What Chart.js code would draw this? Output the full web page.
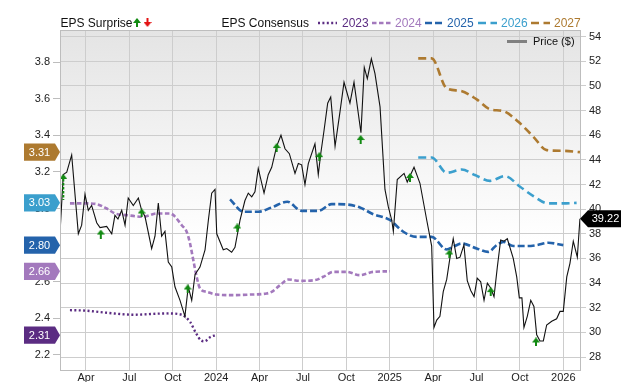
<!DOCTYPE html>
<html lang="en">
<head>
<meta charset="UTF-8">
<title>EPS Consensus and Price</title>
<script src="https://cdn.jsdelivr.net/npm/chart.js@4.4.1/dist/chart.umd.min.js"></script>
<style>
  html, body { margin: 0; padding: 0; background: #fff; }
  #wrap { position: relative; width: 640px; height: 382px; }
</style>
</head>
<body>
<div id="wrap"><canvas id="chart" width="640" height="382"></canvas></div>
<script>
// x values are months counted from Jan 2023 (3 = Apr 2023, 12 = Jan 2024 ...)
const xTicks      = [3, 6, 9, 12, 15, 18, 21, 24, 27, 30, 33, 36];
const xTickLabels = ['Apr', 'Jul', 'Oct', '2024', 'Apr', 'Jul', 'Oct', '2025', 'Apr', 'Jul', 'Oct', '2026'];
const epsTicks    = [2.2, 2.4, 2.6, 2.8, 3.0, 3.2, 3.4, 3.6, 3.8];
const priceTicks  = [28, 30, 32, 34, 36, 38, 40, 42, 44, 46, 48, 50, 52, 54];

const priceX = [1.20, 1.43, 1.67, 2.01, 2.47, 2.70, 2.93, 3.16, 3.39, 3.74, 3.97, 4.43, 4.78, 5.00, 5.21, 5.47,
  5.70, 5.92, 6.27, 6.62, 6.85, 7.08, 7.54, 7.77, 8.00, 8.23, 8.46, 8.69, 8.93, 9.15, 9.50, 9.84, 10.07, 10.31,
  10.54, 10.88, 11.23, 11.46, 11.69, 11.92, 12.04, 12.49, 12.73, 13.07, 13.30, 13.65, 13.99, 14.22, 14.46, 14.68,
  14.91, 15.31, 15.60, 15.84, 16.18, 16.48, 16.76, 17.06, 17.45, 17.68, 17.91, 18.14, 18.37, 18.83, 19.06, 19.23,
  19.46, 19.71, 19.92, 20.22, 20.56, 20.84, 21.25, 21.53, 22.01, 22.24, 22.45, 22.73, 22.98, 23.33, 23.67, 23.90,
  24.14, 24.25, 24.52, 24.99, 25.21, 25.68, 26.09, 26.56, 26.90, 27.06, 27.25, 27.47, 27.70, 27.94, 28.17, 28.39,
  28.63, 28.86, 29.13, 29.36, 29.60, 29.83, 30.05, 30.29, 30.52, 30.75, 30.98, 31.21, 31.44, 31.67, 31.90, 32.13,
  32.54, 32.78, 32.96, 33.14, 33.28, 33.51, 33.75, 33.97, 34.16, 34.39, 34.62, 34.85, 35.20, 35.54, 35.77, 36.00,
  36.24, 36.46, 36.69, 36.97, 37.15];
const priceY = [38.0, 42.8, 43.0, 44.4, 38.0, 38.7, 41.2, 39.9, 40.3, 38.9, 38.5, 38.6, 38.0, 39.5, 39.2, 39.9,
  38.7, 40.9, 40.3, 40.9, 39.9, 39.4, 36.8, 37.8, 40.5, 37.8, 38.2, 35.7, 35.3, 33.7, 32.6, 31.3, 33.7, 32.6,
  34.7, 35.3, 36.7, 39.1, 41.3, 41.6, 38.0, 36.7, 36.8, 36.5, 36.9, 39.1, 40.7, 41.3, 41.0, 41.4,
  43.3, 41.3, 42.8, 43.4, 45.1, 46.0, 44.9, 44.5, 42.9, 43.7, 43.6, 42.0, 43.7, 45.3, 42.8, 44.5,
  46.4, 48.6, 49.1, 45.1, 47.9, 50.3, 48.6, 50.3, 46.2, 51.5, 50.6, 52.2, 51.0, 48.3, 41.6, 40.2,
  39.1, 38.2, 42.4, 42.9, 42.2, 43.4, 42.1, 39.1, 37.0, 30.4, 31.0, 31.3, 33.3, 34.3, 36.1, 37.6,
  36.0, 36.1, 37.1, 34.2, 33.4, 32.9, 34.4, 34.1, 32.6, 34.0, 33.6, 32.9, 35.3, 37.5, 37.4, 37.6,
  36.0, 34.5, 32.8, 32.8, 30.4, 31.3, 32.6, 32.1, 29.8, 29.3, 29.3, 30.6, 30.9, 31.1, 31.7, 31.7,
  34.5, 35.6, 37.4, 36.1, 39.22];

const eps2023X = [1.89, 3.0, 4.5, 6.3, 8.6, 9.6, 10.2, 10.6, 10.95, 11.2, 11.6, 11.92];
const eps2023Y = [2.445, 2.442, 2.43, 2.42, 2.427, 2.42, 2.38, 2.32, 2.28, 2.275, 2.298, 2.308];

const eps2024X = [1.89, 2.93, 3.74, 4.43, 5.0, 5.81, 6.96, 7.89, 8.81, 9.04, 9.62, 9.96, 10.19, 10.42, 10.65,
  10.88, 11.34, 12.04, 13.18, 14.34, 15.49, 15.84, 16.41, 16.99, 17.80, 18.83, 19.41, 20.10, 21.02, 21.94, 22.86, 24.02];
const eps2024Y = [3.028, 3.028, 3.024, 3.0, 2.973, 2.964, 2.955, 2.973, 2.973, 2.964, 2.909, 2.873, 2.81, 2.718, 2.627,
  2.563, 2.545, 2.53, 2.527, 2.53, 2.536, 2.545, 2.581, 2.612, 2.605, 2.609, 2.627, 2.654, 2.654, 2.636, 2.654, 2.657];

const eps2025X = [12.96, 13.88, 14.91, 15.84, 16.92, 17.91, 19.06, 19.99, 21.02, 21.94, 22.86, 23.79, 24.02, 24.94,
  25.86, 26.90, 27.94, 28.39, 28.98, 30.01, 30.81, 31.39, 31.85, 32.54, 33.47, 34.16, 34.96, 36.00];
const eps2025Y = [3.05, 2.982, 2.982, 3.006, 3.037, 2.987, 2.987, 3.024, 3.022, 3.006, 2.969, 2.946, 2.937, 2.873,
  2.845, 2.845, 2.776, 2.791, 2.809, 2.782, 2.763, 2.8, 2.818, 2.795, 2.795, 2.8, 2.813, 2.80];

const eps2026X = [25.97, 26.90, 27.94, 28.98, 29.89, 30.93, 31.97, 33.01, 33.93, 34.96, 36.00, 36.92];
const eps2026Y = [3.279, 3.279, 3.195, 3.213, 3.183, 3.151, 3.177, 3.119, 3.068, 3.028, 3.028, 3.031];

const eps2027X = [25.97, 26.90, 27.94, 28.86, 30.01, 30.93, 31.85, 32.89, 33.93, 34.85, 36.00, 37.15];
const eps2027Y = [3.82, 3.82, 3.656, 3.643, 3.596, 3.542, 3.532, 3.474, 3.392, 3.319, 3.315, 3.308];

// EPS surprise markers, placed on the price scale
const surpriseX    = [1.43, 4.02, 6.85, 10.03, 13.46, 16.18, 19.13, 21.99, 25.40, 28.12, 30.98, 34.11];
const surpriseY    = [41.8, 37.98, 39.69, 33.52, 38.47, 45.0, 44.26, 45.65, 42.57, 36.36, 33.31, 29.22];
const surpriseLong = [true, false, false, false, false, false, false, false, false, false, false, false];

const FONT = '"Liberation Sans", Arial, sans-serif';
const GREEN = '#128a12';

function arrowImage(len, up, color, dashed) {
  const c = document.createElement('canvas');
  c.width = 8; c.height = len;
  const g = c.getContext('2d');
  g.fillStyle = color; g.strokeStyle = color;
  g.save();
  if (!up) { g.translate(0, len); g.scale(1, -1); }
  g.beginPath(); g.moveTo(4, 0); g.lineTo(8, 5); g.lineTo(0, 5); g.closePath(); g.fill();
  g.lineWidth = 2;
  if (dashed) g.setLineDash([2.5, 1.5]);
  g.beginPath(); g.moveTo(4, 5); g.lineTo(4, len); g.stroke();
  g.restore();
  return c;
}
const shortArrow = arrowImage(9, true, GREEN, false);
const longArrow  = arrowImage(26, true, GREEN, true);

const series = [
  { label: '2023', xs: eps2023X, ys: eps2023Y, color: '#5b2c82', dash: [2, 2.4], width: 2.4, lx: 318, tx: 342 },
  { label: '2024', xs: eps2024X, ys: eps2024Y, color: '#a379bd', dash: [4.5, 2.5], width: 2.6, lx: 372, tx: 395 },
  { label: '2025', xs: eps2025X, ys: eps2025Y, color: '#2463ab', dash: [7, 3], width: 2.6, lx: 425, tx: 447 },
  { label: '2026', xs: eps2026X, ys: eps2026Y, color: '#3b9fcd', dash: [8, 4.5], width: 2.6, lx: 478, tx: 501 },
  { label: '2027', xs: eps2027X, ys: eps2027Y, color: '#ad7a30', dash: [8, 4.5], width: 2.6, lx: 531, tx: 554 }
];

const pts = (xs, ys) => xs.map((x, i) => ({ x, y: ys[i] }));

const datasets = [
  {
    type: 'scatter', label: 'EPS Surprise', yAxisID: 'y1', order: 0,
    data: pts(surpriseX, surpriseY),
    pointStyle: surpriseLong.map(l => l ? longArrow : shortArrow),
    pointRadius: 5
  },
  {
    type: 'line', label: 'Price ($)', yAxisID: 'y1', order: 1,
    data: pts(priceX, priceY),
    borderColor: '#111', borderWidth: 1.1, pointRadius: 0, tension: 0
  }
].concat(series.map(s => ({
  type: 'line', label: s.label, yAxisID: 'y', order: 2,
  data: pts(s.xs, s.ys),
  borderColor: s.color, borderWidth: s.width, borderDash: s.dash,
  pointRadius: 0, cubicInterpolationMode: 'monotone'
})));

function badge(ctx, x0, x1, tip, yc, color, text) {
  const h = 8.6;
  ctx.fillStyle = color;
  ctx.beginPath();
  if (tip > x1) {
    ctx.moveTo(x0, yc - h); ctx.lineTo(x1, yc - h); ctx.lineTo(tip, yc);
    ctx.lineTo(x1, yc + h); ctx.lineTo(x0, yc + h);
  } else {
    ctx.moveTo(x1, yc - h); ctx.lineTo(x0, yc - h); ctx.lineTo(tip, yc);
    ctx.lineTo(x0, yc + h); ctx.lineTo(x1, yc + h);
  }
  ctx.closePath(); ctx.fill();
  ctx.fillStyle = '#fff';
  ctx.font = '11px ' + FONT;
  ctx.textAlign = 'center'; ctx.textBaseline = 'middle';
  const cx = tip > x1 ? (x0 + x1) / 2 : (x0 + x1) / 2 + 1;
  ctx.fillText(text, cx, yc + 0.5);
}

const decor = {
  id: 'decor',
  beforeDraw(chart) {
    const { ctx, chartArea: a } = chart;
    const grad = ctx.createLinearGradient(0, a.top, 0, 240);
    grad.addColorStop(0, '#e4e4e4');
    grad.addColorStop(1, '#ffffff');
    ctx.save();
    ctx.fillStyle = grad;
    ctx.fillRect(a.left, a.top, a.right - a.left, a.bottom - a.top);
    ctx.restore();
  },
  afterDraw(chart) {
    const { ctx, chartArea: a, scales } = chart;
    ctx.save();
    ctx.strokeStyle = '#bdbdbd'; ctx.lineWidth = 1;
    ctx.strokeRect(a.left + 0.5, a.top + 0.5, a.right - a.left, a.bottom - a.top);

    // consensus end badges on the left, price badge on the right
    series.forEach(s => {
      const v = s.ys[s.ys.length - 1];
      badge(ctx, 24, 55, 60, scales.y.getPixelForValue(v), s.color, v.toFixed(2));
    });
    const last = priceY[priceY.length - 1];
    badge(ctx, 588, 621, 580, scales.y1.getPixelForValue(last), '#000', last.toFixed(2));

    // legend row
    ctx.textAlign = 'left'; ctx.textBaseline = 'middle';
    ctx.font = '12px ' + FONT;
    ctx.fillStyle = '#111';
    ctx.fillText('EPS Surprise', 60.5, 23.5);
    ctx.fillText('EPS Consensus', 221.5, 23.5);
    ctx.drawImage(arrowImage(9, true, GREEN, false), 133, 18);
    ctx.drawImage(arrowImage(9, false, '#e31212', false), 143.5, 18);
    series.forEach(s => {
      ctx.strokeStyle = s.color; ctx.lineWidth = s.width; ctx.setLineDash(s.dash);
      ctx.beginPath(); ctx.moveTo(s.lx, 23); ctx.lineTo(s.lx + 19, 23); ctx.stroke();
      ctx.setLineDash([]);
      ctx.fillStyle = s.color;
      ctx.fillText(s.label, s.tx, 23.5);
    });
    ctx.strokeStyle = '#808080'; ctx.lineWidth = 3;
    ctx.beginPath(); ctx.moveTo(507, 41.5); ctx.lineTo(527, 41.5); ctx.stroke();
    ctx.fillStyle = '#111'; ctx.font = '11px ' + FONT;
    ctx.fillText('Price ($)', 533, 42);
    ctx.restore();
  }
};

const tickFont = { family: FONT, size: 11 };

new Chart(document.getElementById('chart'), {
  data: { datasets },
  plugins: [decor],
  options: {
    responsive: false,
    animation: false,
    devicePixelRatio: 1,
    layout: { padding: { top: 30, left: 0, right: 0, bottom: 0 } },
    plugins: { legend: { display: false }, tooltip: { enabled: false } },
    scales: {
      x: {
        type: 'linear', min: 1.2025, max: 37.155,
        afterBuildTicks: s => { s.ticks = xTicks.map(v => ({ value: v })); },
        afterFit: s => { s.height = 12; },
        grid: { color: '#cdcdcd', drawTicks: false },
        border: { color: '#bdbdbd' },
        ticks: {
          padding: 1, color: '#222', font: tickFont, maxRotation: 0, autoSkip: false,
          callback: v => xTickLabels[xTicks.indexOf(v)]
        }
      },
      y: {
        position: 'left', min: 2.118, max: 3.975,
        afterBuildTicks: s => { s.ticks = epsTicks.map(v => ({ value: v })); },
        afterFit: s => { s.width = 60; },
        grid: { drawOnChartArea: false, color: '#bdbdbd', tickLength: 7 },
        border: { color: '#bdbdbd' },
        ticks: { padding: 3, color: '#222', font: tickFont, callback: v => v.toFixed(1) }
      },
      y1: {
        position: 'right', min: 26.945, max: 54.54,
        afterBuildTicks: s => { s.ticks = priceTicks.map(v => ({ value: v })); },
        afterFit: s => { s.width = 60; },
        grid: { color: '#cdcdcd', tickLength: 6 },
        border: { color: '#bdbdbd' },
        ticks: { padding: 3, color: '#222', font: tickFont, callback: v => String(v) }
      }
    }
  }
});
</script>
</body>
</html>
